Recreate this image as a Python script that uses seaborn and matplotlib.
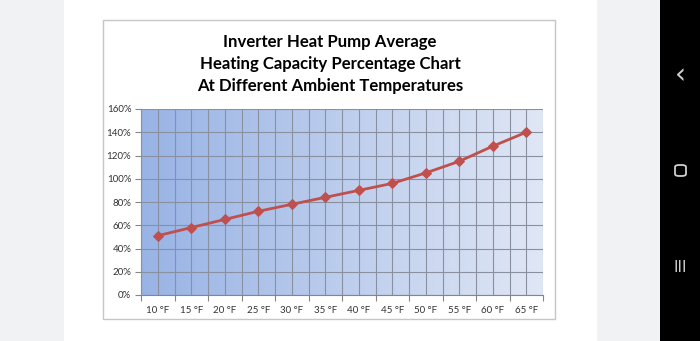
import numpy as np
import pandas as pd
import matplotlib
matplotlib.use("Agg")
import matplotlib.pyplot as plt
from matplotlib.patches import Rectangle, FancyBboxPatch
from matplotlib.ticker import PercentFormatter
import seaborn as sns

temps = ["10 °F", "15 °F", "20 °F", "25 °F", "30 °F", "35 °F",
         "40 °F", "45 °F", "50 °F", "55 °F", "60 °F", "65 °F"]
capacity = [0.51, 0.58, 0.65, 0.72, 0.78, 0.84, 0.90, 0.96, 1.05, 1.15, 1.28, 1.40]
y_ticks = [0, 0.2, 0.4, 0.6, 0.8, 1.0, 1.2, 1.4, 1.6]
title = "Inverter Heat Pump Average\nHeating Capacity Percentage Chart\nAt Different Ambient Temperatures"

sns.set_theme(style="white")
plt.rcParams["font.family"] = ["Lato", "DejaVu Sans"]

W, H = 700, 341
fig = plt.figure(figsize=(7, 3.41), dpi=100)
fig.patch.set_facecolor("#f1f2f4")

def px_rect(x0, y0, x1, y1, **kw):
    fig.patches.append(Rectangle((x0 / W, 1 - y1 / H), (x1 - x0) / W, (y1 - y0) / H,
                                 transform=fig.transFigure, **kw))

px_rect(64, -5, 597, 350, facecolor="white", edgecolor="none", zorder=0)
px_rect(660, -5, 705, 350, facecolor="black", edgecolor="none", zorder=0)
px_rect(103, 20, 555, 319, facecolor="white", edgecolor="#c6c6c6", linewidth=1.0, zorder=1)

# nav icons
fig.text(680 / W, 1 - 75 / H, "‹", color="#cfcfcf", fontsize=20, ha="center", va="center",
         family=["DejaVu Sans"])
fig.patches.append(FancyBboxPatch((675 / W, 1 - 176 / H), 11 / W, 11 / H,
                                  boxstyle="round,pad=0,rounding_size=0.006",
                                  transform=fig.transFigure,
                                  facecolor="none", edgecolor="#cfcfcf", linewidth=1.3, zorder=3))
fig.text(680 / W, 1 - 267 / H, "III", color="#cfcfcf", fontsize=11, ha="center", va="center",
         family=["DejaVu Sans"])

fig.text(330 / W, 1 - 64 / H, title, ha="center", va="center", fontsize=12.1,
         fontweight="bold", color="black", linespacing=1.5)

ax = fig.add_axes([141 / W, 46 / H, (543 - 141) / W, (295 - 109) / H])
ax.set_zorder(2)

df = pd.DataFrame({"temp": temps, "capacity": capacity})

# gradient background
grad = np.linspace(0, 1, 256).reshape(1, -1)
cmap = matplotlib.colors.LinearSegmentedColormap.from_list("bg", ["#98b3e5", "#e0e7f5"])
ax.imshow(grad, cmap=cmap, aspect="auto", extent=(-0.5, 11.5, 0, 1.6), zorder=0)

sns.lineplot(data=df, x="temp", y="capacity", ax=ax, color="#c0504d", linewidth=2.0,
             marker="D", markersize=5, markeredgecolor="#c0504d", zorder=5, sort=False)

ax.set_xlim(-0.5, 11.5)
ax.set_ylim(0, 1.6)
ax.set_xticks(range(len(temps)))
ax.set_xticklabels(temps)
ax.set_xticks(np.arange(-0.5, 12, 1), minor=True)
ax.set_yticks(y_ticks)
ax.yaxis.set_major_formatter(PercentFormatter(1.0, decimals=0))

ax.tick_params(axis="x", which="major", length=0, pad=8, labelsize=7, labelcolor="#333333")
ax.tick_params(axis="x", which="minor", length=4, color="#868686", width=0.8, bottom=True)
ax.tick_params(axis="y", which="major", length=4, color="#868686", width=0.8, left=True,
               pad=3, labelsize=7, labelcolor="#333333")

ax.grid(True, axis="x", which="both", color="#8b90a0", linewidth=0.8, zorder=1)
ax.grid(True, axis="y", which="major", color="#8b90a0", linewidth=0.8, zorder=1)
ax.set_axisbelow(False)

for s in ["top", "right"]:
    ax.spines[s].set_visible(False)
for s in ["left", "bottom"]:
    ax.spines[s].set_color("#868686")
    ax.spines[s].set_linewidth(0.8)

ax.set_xlabel("")
ax.set_ylabel("")

fig.savefig("out.png", dpi=100, facecolor=fig.get_facecolor())
